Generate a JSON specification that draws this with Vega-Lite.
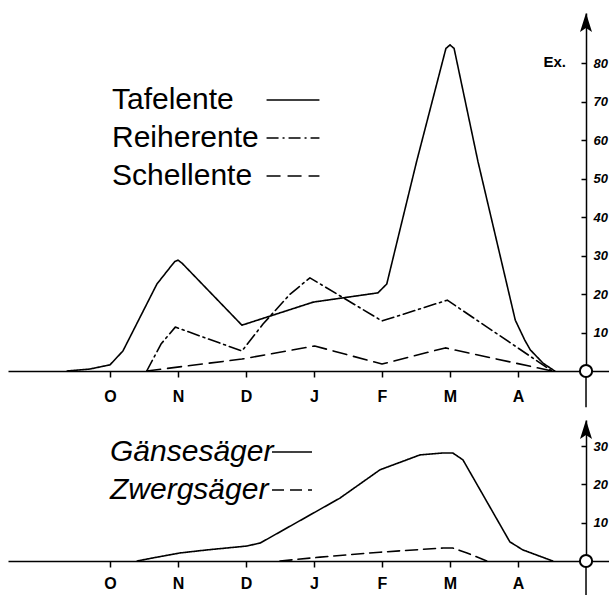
{
  "$schema": "https://vega.github.io/schema/vega-lite/v6.json",
  "background": "white",
  "padding": {"left": 8, "top": 13, "right": 0, "bottom": 0},
  "bounds": "flush",
  "spacing": 49,
  "config": {
    "view": {"stroke": null},
    "axis": {"grid": false, "domainColor": "black", "domainWidth": 1.5, "tickColor": "black", "tickWidth": 1.5, "labelColor": "black", "title": null},
    "legend": {"padding": 0, "labelColor": "black", "labelLimit": 400, "symbolStrokeColor": "black", "symbolStrokeWidth": 1.5, "title": null, "rowPadding": 0}
  },
  "datasets": {
    "enten": [
      {"art": "Tafelente", "m": -0.63, "n": 0},
      {"art": "Tafelente", "m": -0.3, "n": 0.5},
      {"art": "Tafelente", "m": 0, "n": 1.6},
      {"art": "Tafelente", "m": 0.19, "n": 5.2},
      {"art": "Tafelente", "m": 0.69, "n": 22.6},
      {"art": "Tafelente", "m": 0.95, "n": 28.4},
      {"art": "Tafelente", "m": 1.0, "n": 28.8},
      {"art": "Tafelente", "m": 1.06, "n": 28.0},
      {"art": "Tafelente", "m": 1.94, "n": 11.9},
      {"art": "Tafelente", "m": 2.99, "n": 17.9},
      {"art": "Tafelente", "m": 3.94, "n": 20.3},
      {"art": "Tafelente", "m": 4.07, "n": 22.6},
      {"art": "Tafelente", "m": 4.26, "n": 36.4},
      {"art": "Tafelente", "m": 4.51, "n": 54.5},
      {"art": "Tafelente", "m": 4.94, "n": 83.8},
      {"art": "Tafelente", "m": 5.0, "n": 84.7},
      {"art": "Tafelente", "m": 5.06, "n": 83.8},
      {"art": "Tafelente", "m": 5.41, "n": 54.5},
      {"art": "Tafelente", "m": 5.96, "n": 13.2},
      {"art": "Tafelente", "m": 6.1, "n": 8},
      {"art": "Tafelente", "m": 6.18, "n": 5.5},
      {"art": "Tafelente", "m": 6.37, "n": 2},
      {"art": "Tafelente", "m": 6.54, "n": 0},
      {"art": "Reiherente", "m": 0.54, "n": 0},
      {"art": "Reiherente", "m": 0.75, "n": 7},
      {"art": "Reiherente", "m": 0.96, "n": 11.4},
      {"art": "Reiherente", "m": 1.94, "n": 5.2},
      {"art": "Reiherente", "m": 2.25, "n": 12.2},
      {"art": "Reiherente", "m": 2.65, "n": 20},
      {"art": "Reiherente", "m": 2.94, "n": 24.2},
      {"art": "Reiherente", "m": 4.0, "n": 13},
      {"art": "Reiherente", "m": 4.96, "n": 18.4},
      {"art": "Reiherente", "m": 6.5, "n": 0},
      {"art": "Schellente", "m": 0.54, "n": 0},
      {"art": "Schellente", "m": 1.94, "n": 3.1},
      {"art": "Schellente", "m": 3.01, "n": 6.5},
      {"art": "Schellente", "m": 4.0, "n": 1.8},
      {"art": "Schellente", "m": 4.93, "n": 6.0},
      {"art": "Schellente", "m": 6.5, "n": 0}
    ],
    "saeger": [
      {"art": "Gänsesäger", "m": 0.4, "n": 0},
      {"art": "Gänsesäger", "m": 0.63, "n": 0.8},
      {"art": "Gänsesäger", "m": 1.03, "n": 2.1},
      {"art": "Gänsesäger", "m": 1.43, "n": 2.9},
      {"art": "Gänsesäger", "m": 2.01, "n": 3.9},
      {"art": "Gänsesäger", "m": 2.21, "n": 4.7},
      {"art": "Gänsesäger", "m": 2.99, "n": 12.5},
      {"art": "Gänsesäger", "m": 3.38, "n": 16.4},
      {"art": "Gänsesäger", "m": 3.97, "n": 23.8},
      {"art": "Gänsesäger", "m": 4.56, "n": 27.7},
      {"art": "Gänsesäger", "m": 4.9, "n": 28.2},
      {"art": "Gänsesäger", "m": 5.04, "n": 28.2},
      {"art": "Gänsesäger", "m": 5.19, "n": 26.4},
      {"art": "Gänsesäger", "m": 5.88, "n": 5.0},
      {"art": "Gänsesäger", "m": 6.07, "n": 2.9},
      {"art": "Gänsesäger", "m": 6.51, "n": 0},
      {"art": "Zwergsäger", "m": 2.5, "n": 0},
      {"art": "Zwergsäger", "m": 3.09, "n": 1.0},
      {"art": "Zwergsäger", "m": 3.97, "n": 2.3},
      {"art": "Zwergsäger", "m": 4.9, "n": 3.4},
      {"art": "Zwergsäger", "m": 5.04, "n": 3.4},
      {"art": "Zwergsäger", "m": 5.25, "n": 2.1},
      {"art": "Zwergsäger", "m": 5.54, "n": 0}
    ]
  },
  "vconcat": [
    {
      "width": 601,
      "height": 358,
      "layer": [
        {
          "data": {"name": "enten"},
          "mark": {"type": "line", "color": "black", "strokeWidth": 1.6, "strokeJoin": "round", "strokeCap": "round"},
          "encoding": {
            "x": {"field": "m", "type": "quantitative", "scale": {"domain": [-1.5, 7.338], "nice": false, "zero": false},
              "axis": {"orient": "bottom", "values": [0, 1, 2, 3, 4, 5, 6], "labelExpr": "['O','N','D','J','F','M','A'][datum.value]", "tickSize": 6, "labelPadding": 11, "labelFont": "Liberation Sans", "labelFontWeight": "bold", "labelFontSize": 16, "labelAngle": 0, "labelFlush": false}},
            "y": {"field": "n", "type": "quantitative", "scale": {"domain": [0, 93], "nice": false},
              "axis": {"orient": "right", "offset": -23, "values": [10, 20, 30, 40, 50, 60, 70, 80], "tickSize": -5, "labelPadding": 12, "labelFont": "Liberation Sans", "labelFontStyle": "italic", "labelFontWeight": "bold", "labelFontSize": 13, "labelAlign": "left"}},
            "strokeDash": {"field": "art", "type": "nominal",
              "scale": {"domain": ["Tafelente", "Reiherente", "Schellente"], "range": [[1, 0], [12, 4, 2, 4], [14, 7]]},
              "legend": {"orient": "none", "legendX": 104, "legendY": 64.5, "labelFont": "Liberation Sans", "labelFontSize": 30, "labelOffset": -203.5, "symbolOffset": 158.5, "symbolType": "M-1.23,0H1.23", "symbolSize": 1849}}
          }
        },
        {
          "data": {"values": [{}]},
          "mark": {"type": "rule", "color": "black", "strokeWidth": 1.5},
          "encoding": {"x": {"datum": 7, "type": "quantitative"}, "y": {"datum": -9.4, "type": "quantitative"}, "y2": {"datum": 0}}
        },
        {
          "data": {"values": [{}]},
          "mark": {"type": "point", "shape": "M0,-1L-0.6,0.9L0,0.5L0.6,0.9Z", "filled": true, "color": "black", "size": 400, "opacity": 1},
          "encoding": {"x": {"datum": 7, "type": "quantitative"}, "y": {"datum": 90.4, "type": "quantitative"}}
        },
        {
          "data": {"values": [{}]},
          "mark": {"type": "point", "shape": "circle", "filled": true, "fill": "white", "stroke": "black", "strokeWidth": 2, "size": 150, "opacity": 1},
          "encoding": {"x": {"datum": 7, "type": "quantitative"}, "y": {"datum": 0, "type": "quantitative"}}
        },
        {
          "data": {"values": [{"t": "Ex."}]},
          "mark": {"type": "text", "font": "Liberation Sans", "fontWeight": "bold", "fontSize": 15, "color": "black", "align": "center", "baseline": "middle"},
          "encoding": {"x": {"datum": 6.54, "type": "quantitative"}, "y": {"datum": 80.3, "type": "quantitative"}, "text": {"field": "t"}}
        }
      ]
    },
    {
      "width": 601,
      "height": 141,
      "layer": [
        {
          "data": {"name": "saeger"},
          "mark": {"type": "line", "color": "black", "strokeWidth": 1.6, "strokeJoin": "round", "strokeCap": "round"},
          "encoding": {
            "x": {"field": "m", "type": "quantitative", "scale": {"domain": [-1.5, 7.338], "nice": false, "zero": false},
              "axis": {"orient": "bottom", "values": [0, 1, 2, 3, 4, 5, 6], "labelExpr": "['O','N','D','J','F','M','A'][datum.value]", "tickSize": 6, "labelPadding": 8, "labelFont": "Liberation Sans", "labelFontWeight": "bold", "labelFontSize": 16, "labelAngle": 0, "labelFlush": false}},
            "y": {"field": "n", "type": "quantitative", "scale": {"domain": [0, 36.8], "nice": false},
              "axis": {"orient": "right", "offset": -23, "values": [10, 20, 30], "tickSize": -5, "labelPadding": 12, "labelFont": "Liberation Sans", "labelFontStyle": "italic", "labelFontWeight": "bold", "labelFontSize": 13, "labelAlign": "left"}},
            "strokeDash": {"field": "art", "type": "nominal",
              "scale": {"domain": ["Gänsesäger", "Zwergsäger"], "range": [[1, 0], [12, 6]]},
              "legend": {"orient": "none", "legendX": 102, "legendY": 9.5, "labelFont": "Liberation Sans", "labelFontStyle": "italic", "labelFontSize": 30, "labelOffset": -204.5, "symbolOffset": 159.5, "symbolType": "M-0.93,0H0.93", "symbolSize": 1849}}
          }
        },
        {
          "data": {"values": [{}]},
          "mark": {"type": "rule", "color": "black", "strokeWidth": 1.5},
          "encoding": {"x": {"datum": 7, "type": "quantitative"}, "y": {"datum": -9, "type": "quantitative"}, "y2": {"datum": 0}}
        },
        {
          "data": {"values": [{}]},
          "mark": {"type": "point", "shape": "M0,-1L-0.6,0.9L0,0.5L0.6,0.9Z", "filled": true, "color": "black", "size": 400, "opacity": 1},
          "encoding": {"x": {"datum": 7, "type": "quantitative"}, "y": {"datum": 34.2, "type": "quantitative"}}
        },
        {
          "data": {"values": [{}]},
          "mark": {"type": "point", "shape": "circle", "filled": true, "fill": "white", "stroke": "black", "strokeWidth": 2, "size": 150, "opacity": 1},
          "encoding": {"x": {"datum": 7, "type": "quantitative"}, "y": {"datum": 0, "type": "quantitative"}}
        }
      ]
    }
  ],
  "resolve": {"scale": {"x": "independent", "y": "independent", "strokeDash": "independent"}, "legend": {"strokeDash": "independent"}}
}
